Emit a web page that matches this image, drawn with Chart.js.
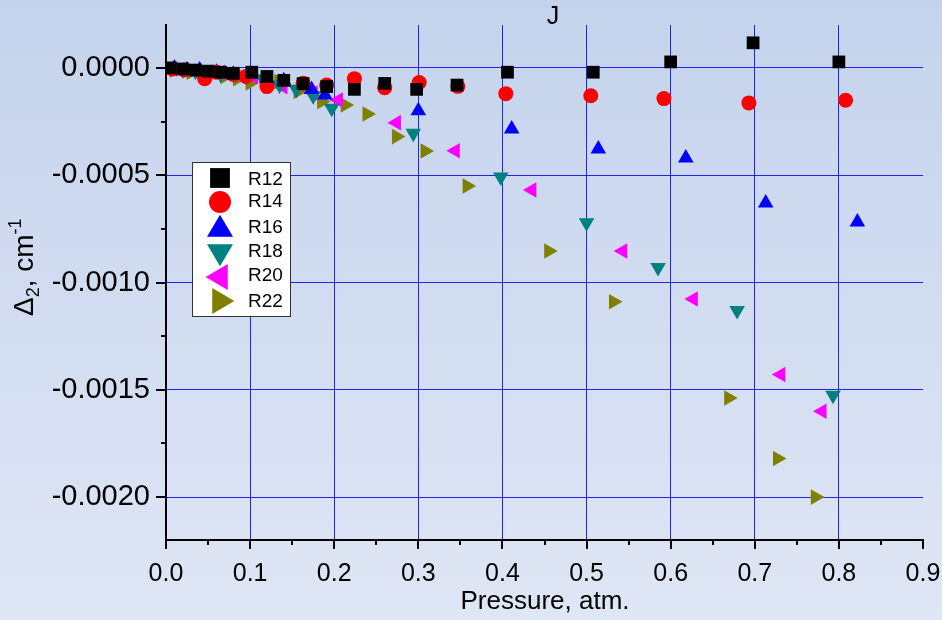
<!DOCTYPE html>
<html>
<head>
<meta charset="utf-8">
<script src="https://cdn.jsdelivr.net/npm/chart.js@4/dist/chart.umd.min.js"></script>
<style>
  html, body { margin: 0; padding: 0; }
  body { width: 942px; height: 620px; background: linear-gradient(#c4d3ec, #dfe6f5); }
  #wrap { width: 942px; height: 620px; }
</style>
</head>
<body>
<div id="wrap"><canvas id="chart1"></canvas></div>
<script>
// data
var xTicks = [0, 0.1, 0.2, 0.3, 0.4, 0.5, 0.6, 0.7, 0.8, 0.9];
var yTicks = [0, -0.0005, -0.001, -0.0015, -0.002];

var r12x = [0.005, 0.02, 0.035, 0.05, 0.065, 0.08, 0.102, 0.12, 0.14, 0.163, 0.191, 0.224, 0.26, 0.298, 0.346, 0.406, 0.508, 0.6, 0.698, 0.8];
var r12y = [0, -0.000005, -0.00001, -0.000015, -0.00002, -0.000025, -0.00002, -0.00004, -0.000058, -0.000073, -0.000087, -0.0001, -0.000072, -0.0001, -0.00008, -0.00002, -0.00002, 0.000028, 0.000117, 0.000028];

var r14x = [0.008, 0.022, 0.046, 0.06, 0.08, 0.095, 0.12, 0.163, 0.191, 0.224, 0.26, 0.301, 0.347, 0.404, 0.505, 0.592, 0.693, 0.808];
var r14y = [-0.000005, -0.00001, -0.00005, -0.00002, -0.00003, -0.00004, -0.000087, -0.000072, -0.00008, -0.00005, -0.000092, -0.000068, -0.000086, -0.00012, -0.00013, -0.000143, -0.000163, -0.000151];

var r16x = [0.01, 0.025, 0.04, 0.06, 0.08, 0.1, 0.12, 0.14, 0.173, 0.189, 0.3, 0.411, 0.514, 0.618, 0.713, 0.822];
var r16y = [0, -0.00001, -0.00001, -0.00002, -0.00003, -0.00003, -0.00005, -0.00006, -0.0001, -0.000126, -0.0002, -0.000285, -0.000378, -0.00042, -0.00063, -0.000718];

var r18x = [0.005, 0.02, 0.035, 0.05, 0.065, 0.08, 0.095, 0.115, 0.135, 0.155, 0.175, 0.197, 0.294, 0.398, 0.5, 0.585, 0.679, 0.793];
var r18y = [0, -0.00001, -0.000015, -0.00002, -0.00003, -0.00003, -0.00004, -0.00005, -0.00008, -0.0001, -0.00013, -0.000188, -0.000305, -0.000508, -0.000722, -0.00093, -0.00113, -0.001525];

var r20x = [0.008, 0.02, 0.035, 0.05, 0.065, 0.08, 0.104, 0.139, 0.175, 0.205, 0.274, 0.344, 0.435, 0.543, 0.627, 0.731, 0.78];
var r20y = [-0.000005, -0.00001, -0.00002, -0.00002, -0.00002, -0.00003, -0.00004, -0.000087, -0.000117, -0.00015, -0.000255, -0.000386, -0.000569, -0.000853, -0.001077, -0.001429, -0.0016];

var r22x = [0.01, 0.03, 0.05, 0.07, 0.085, 0.1, 0.134, 0.157, 0.185, 0.213, 0.239, 0.274, 0.308, 0.358, 0.455, 0.532, 0.669, 0.727, 0.772];
var r22y = [-0.00001, -0.00002, -0.00003, -0.00004, -0.00005, -0.00007, -0.000064, -0.00011, -0.000157, -0.000173, -0.000215, -0.00032, -0.000387, -0.00055, -0.000853, -0.00109, -0.001538, -0.00182, -0.002];

function pts(xs, ys) {
  return xs.map(function (x, i) { return { x: x, y: ys[i] }; });
}

// r = radius on the plot, lr / ly = legend marker radius and row
var series = [
  { label: 'R12', data: pts(r12x, r12y), color: '#000000', style: 'rect', rot: 0, r: 9, lr: 14, lx: 220, ly: 178 },
  { label: 'R14', data: pts(r14x, r14y), color: '#ff0000', style: 'circle', rot: 0, r: 7.5, lr: 11, lx: 220, ly: 202 },
  { label: 'R16', data: pts(r16x, r16y), color: '#0000ff', style: 'triangle', rot: 0, r: 9, lr: 13, lx: 220, ly: 227 },
  { label: 'R18', data: pts(r18x, r18y), color: '#008080', style: 'triangle', rot: 180, r: 9, lr: 13, lx: 220, ly: 254 },
  { label: 'R20', data: pts(r20x, r20y), color: '#ff00ff', style: 'triangle', rot: 270, r: 9, lr: 13, lx: 218, ly: 277 },
  { label: 'R22', data: pts(r22x, r22y), color: '#808000', style: 'triangle', rot: 90, r: 9, lr: 13, lx: 222, ly: 301 }
];
var textRows = [180, 202, 228, 252, 276, 302];

var FONT = "'Liberation Sans', Arial, sans-serif";

// ticks, legend and titles drawn by hand
var extras = {
  id: 'extras',
  afterDraw: function (chart) {
    var ctx = chart.ctx;
    var xs = chart.scales.x, ys = chart.scales.y;
    var a = chart.chartArea;
    ctx.save();
    ctx.strokeStyle = '#000';
    ctx.lineWidth = 2;
    ctx.beginPath();
    for (var i = 0; i <= 18; i++) {
      var px = Math.round(xs.getPixelForValue(i * 0.05));
      ctx.moveTo(px, a.bottom);
      ctx.lineTo(px, a.bottom + (i % 2 === 0 ? 9 : 5));
    }
    for (var j = 0; j <= 8; j++) {
      var py = Math.round(ys.getPixelForValue(-j * 0.00025));
      ctx.moveTo(a.left, py);
      ctx.lineTo(a.left - (j % 2 === 0 ? 10 : 5), py);
    }
    ctx.stroke();

    // title and axis titles
    ctx.fillStyle = '#000';
    ctx.font = '25px ' + FONT;
    ctx.textAlign = 'center';
    ctx.textBaseline = 'middle';
    ctx.fillText('J', 553, 17);
    ctx.font = '26px ' + FONT;
    ctx.fillText('Pressure, atm.', 545, 602);

    ctx.save();
    ctx.translate(33, 316);
    ctx.rotate(-Math.PI / 2);
    ctx.textAlign = 'left';
    ctx.textBaseline = 'alphabetic';
    var x = 0;
    ctx.font = '28px ' + FONT;
    ctx.fillText('\u0394', x, 0); x += ctx.measureText('\u0394').width;
    ctx.font = '18px ' + FONT;
    ctx.fillText('2', x, 6); x += ctx.measureText('2').width;
    ctx.font = '28px ' + FONT;
    ctx.fillText(', cm', x, 0); x += ctx.measureText(', cm').width;
    ctx.font = '18px ' + FONT;
    ctx.fillText('-1', x, -12);
    ctx.restore();

    // legend box
    ctx.fillStyle = '#ffffff';
    ctx.fillRect(192, 162, 98, 154);
    ctx.strokeStyle = '#333';
    ctx.lineWidth = 1;
    ctx.strokeRect(192.5, 162.5, 98, 154);
    series.forEach(function (s, k) {
      drawMarker(ctx, s.style, s.rot, s.lr, s.lx, s.ly, s.color);
      ctx.fillStyle = '#000';
      ctx.font = '19px ' + FONT;
      ctx.textAlign = 'left';
      ctx.textBaseline = 'middle';
      ctx.fillText(s.label, 248, textRows[k]);
    });
    ctx.restore();
  }
};

function drawMarker(ctx, style, rot, r, x, y, color) {
  ctx.save();
  ctx.fillStyle = color;
  ctx.translate(x, y);
  ctx.rotate(rot * Math.PI / 180);
  ctx.beginPath();
  if (style === 'rect') {
    var s = r * Math.SQRT1_2;
    ctx.rect(-s, -s, 2 * s, 2 * s);
  } else if (style === 'circle') {
    ctx.arc(0, 0, r, 0, Math.PI * 2);
  } else {
    ctx.moveTo(0, -r * 0.95);
    ctx.lineTo(r, r * 0.75);
    ctx.lineTo(-r, r * 0.75);
    ctx.closePath();
  }
  ctx.fill();
  ctx.restore();
}

function noPad(scale) {
  scale.paddingLeft = 0;
  scale.paddingRight = 0;
  scale.paddingTop = 0;
  scale.paddingBottom = 0;
}

var ctx1 = document.getElementById('chart1').getContext('2d');
var chart1 = new Chart(ctx1, {
  type: 'scatter',
  data: {
    datasets: series.map(function (s) {
      return {
        label: s.label,
        data: s.data,
        pointStyle: s.style,
        rotation: s.rot,
        pointRadius: s.r,
        pointHoverRadius: s.r,
        backgroundColor: s.color,
        borderColor: s.color,
        borderWidth: 0
      };
    })
  },
  options: {
    responsive: true,
    maintainAspectRatio: false,
    animation: false,
    layout: { padding: { top: 25, right: 19, left: 0, bottom: 0 } },
    plugins: {
      legend: { display: false },
      title: { display: false },
      tooltip: { enabled: false }
    },
    scales: {
      x: {
        type: 'linear',
        min: 0,
        max: 0.9,
        afterBuildTicks: function (scale) {
          scale.ticks = xTicks.map(function (v) { return { value: v }; });
        },
        afterFit: function (scale) { scale.height = 80; noPad(scale); },
        border: { display: true, color: '#000', width: 2 },
        grid: {
          drawTicks: false,
          lineWidth: 1,
          color: function (c) {
            if (c.tick && (c.tick.value === 0 || c.tick.value === 0.9)) return 'rgba(0,0,0,0)';
            return '#2323ee';
          }
        },
        ticks: {
          padding: 19,
          color: '#000',
          font: { family: FONT, size: 25 },
          callback: function (v) { return Number(v).toFixed(1); }
        }
      },
      y: {
        type: 'linear',
        min: -0.0022,
        max: 0.0002,
        afterBuildTicks: function (scale) {
          scale.ticks = yTicks.map(function (v) { return { value: v }; });
        },
        afterFit: function (scale) { scale.width = 166; noPad(scale); },
        border: { display: true, color: '#000', width: 2 },
        grid: {
          drawTicks: false,
          lineWidth: 1,
          color: '#2323ee'
        },
        ticks: {
          padding: 16,
          color: '#000',
          font: { family: FONT, size: 29 },
          callback: function (v) { var t = Number(v).toFixed(4); return t === '-0.0000' ? '0.0000' : t; }
        }
      }
    }
  },
  plugins: [extras]
});
</script>
</body>
</html>
